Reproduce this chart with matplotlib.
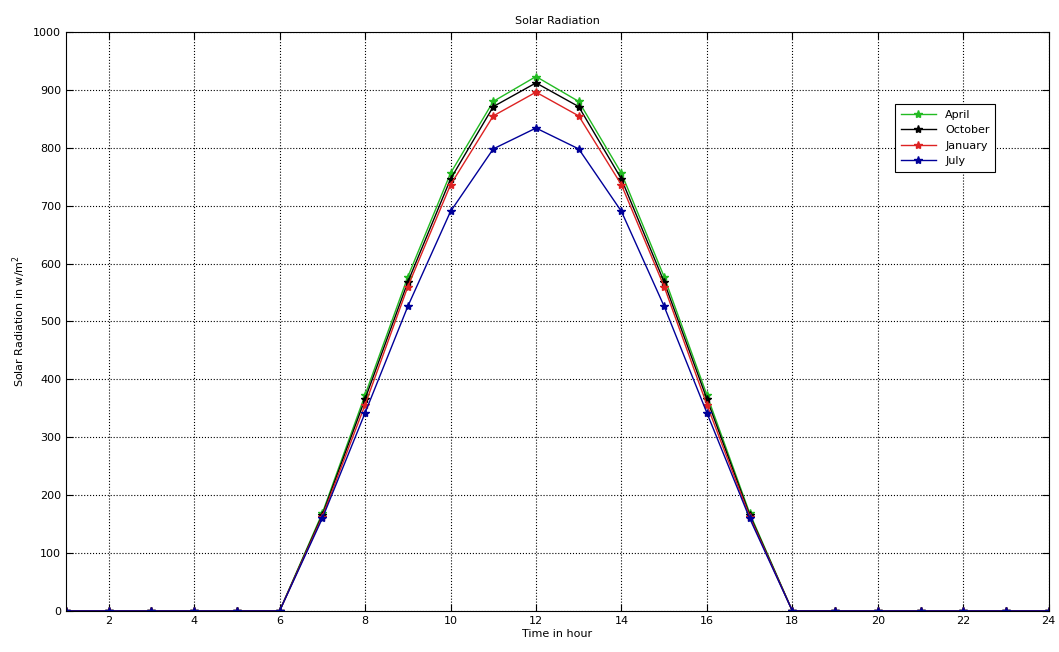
import numpy as np
import matplotlib
matplotlib.use('Agg')
import matplotlib.pyplot as plt

# часы суток
hours = list(range(1, 25))

# солнечная радиация по месяцам (Вт/м^2)
april = [0, 0, 0, 0, 0, 0, 169, 373, 577, 756, 880, 923,
         880, 756, 577, 373, 169, 0, 0, 0, 0, 0, 0, 0]
october = [0, 0, 0, 0, 0, 0, 166, 366, 568, 746, 871, 912,
           871, 746, 568, 366, 166, 0, 0, 0, 0, 0, 0, 0]
january = [0, 0, 0, 0, 0, 0, 163, 356, 560, 736, 855, 896,
           855, 736, 560, 356, 163, 0, 0, 0, 0, 0, 0, 0]
july = [0, 0, 0, 0, 0, 0, 160, 342, 526, 690, 798, 834,
        798, 690, 526, 342, 160, 0, 0, 0, 0, 0, 0, 0]

xticks = list(range(2, 25, 2))
yticks = list(range(0, 1001, 100))

plt.rcParams['font.family'] = ['DejaVu Sans']

fig = plt.figure(figsize=(10.59, 6.52), dpi=100)
ax = fig.add_axes([0.0623, 0.063, 0.928, 0.888])

ax.plot(hours, april, color='#22bb22', marker='*', markersize=6, linewidth=1, label='April')
ax.plot(hours, october, color='black', marker='*', markersize=6, linewidth=1, label='October')
ax.plot(hours, january, color='#dd2222', marker='*', markersize=6, linewidth=1, label='January')
ax.plot(hours, july, color='#000099', marker='*', markersize=6, linewidth=1, label='July')

ax.set_xlim(1, 24)
ax.set_ylim(0, 1000)
ax.set_xticks(xticks)
ax.set_yticks(yticks)
ax.tick_params(direction='in', length=5, labelsize=8, top=True, right=True)
ax.grid(True, linestyle=':', color='black', linewidth=0.8)

for s in ax.spines.values():
    s.set_linewidth(0.8)

ax.set_title('Solar Radiation', fontsize=8, pad=6)
ax.set_xlabel('Time in hour', fontsize=8, labelpad=2)
ax.set_ylabel('Solar Radiation in w/m$^2$', fontsize=8, labelpad=4)

leg = ax.legend(loc='upper left', bbox_to_anchor=(0.838, 0.885), fontsize=8,
                fancybox=False, framealpha=1, edgecolor='black', handlelength=3.2,
                borderpad=0.5, labelspacing=0.5)
leg.get_frame().set_linewidth(0.8)

plt.savefig('out.png', dpi=100)
